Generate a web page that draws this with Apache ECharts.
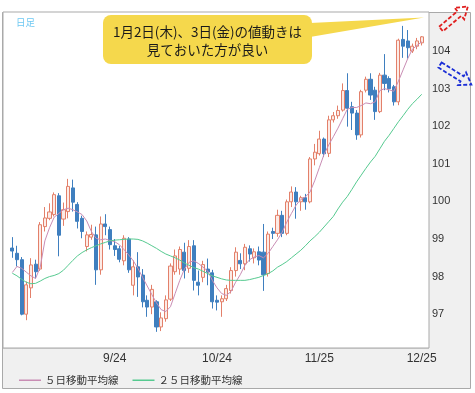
<!DOCTYPE html>
<html><head><meta charset="utf-8">
<script src="https://cdn.jsdelivr.net/npm/echarts@6/dist/echarts.min.js"></script>
<style>html,body{margin:0;padding:0;background:#fff}#c{width:475px;height:393px}</style>
</head><body><div id="c"></div>
<script>
// ---- data ----
const dates = ['8/23','8/26','8/27','8/28','8/29','8/30',
'9/2','9/3','9/4','9/5','9/6','9/9','9/10','9/11','9/12','9/13','9/16','9/17','9/18','9/19','9/20','9/23','9/24','9/25','9/26','9/27','9/30',
'10/1','10/2','10/3','10/4','10/7','10/8','10/9','10/10','10/11','10/14','10/15','10/16','10/17','10/18','10/21','10/22','10/23','10/24','10/25','10/28','10/29','10/30','10/31',
'11/1','11/4','11/5','11/6','11/7','11/8','11/11','11/12','11/13','11/14','11/15','11/18','11/19','11/20','11/21','11/22','11/25','11/26','11/27','11/28','11/29',
'12/2','12/3','12/4','12/5','12/6','12/9','12/10','12/11','12/12','12/13','12/16','12/17','12/18','12/19','12/20','12/23','12/24','12/25'];
const opens = [98.76,98.62,98.45,97.00,97.70,98.33,98.20,99.33,99.55,99.65,100.15,99.53,99.73,100.36,99.92,99.55,98.80,99.05,99.11,98.18,99.40,99.25,98.82,98.74,98.42,99.00,97.77,98.26,98.04,97.37,97.19,97.33,96.66,96.88,97.40,98.13,98.20,98.65,98.22,98.82,97.85,97.98,98.20,98.10,97.37,97.33,97.41,97.63,98.16,98.43,98.34,98.74,98.50,98.66,98.65,98.08,99.20,99.15,99.63,99.15,99.99,100.25,99.99,100.10,99.99,101.13,101.27,101.66,101.28,102.17,102.28,102.43,102.95,102.52,102.35,101.77,102.96,103.25,102.96,102.39,103.36,103.27,103.05,102.65,104.31,104.27,104.00,104.13,104.22];
const closes = [98.68,98.45,97.00,97.78,98.31,98.13,99.38,99.56,99.72,100.18,99.10,99.78,100.40,99.98,99.47,99.20,99.11,99.12,98.18,99.40,99.33,98.85,98.72,98.46,99.02,98.18,98.26,97.99,97.33,97.19,97.66,96.66,96.90,97.38,98.28,98.55,98.72,98.16,98.80,97.90,97.77,98.32,98.12,97.33,97.32,97.41,97.68,98.16,98.65,98.34,98.78,98.60,98.66,98.44,98.05,99.13,99.15,99.63,99.15,99.99,100.25,99.99,100.10,99.99,101.13,101.31,101.66,101.27,102.17,102.28,102.42,102.95,102.48,102.35,101.77,102.92,103.25,102.83,102.39,103.36,103.14,103.00,102.65,104.29,104.13,104.09,104.13,104.27,104.38];
const lows = [98.50,98.27,96.97,96.84,97.43,97.95,98.15,99.20,99.50,99.60,98.54,99.35,99.55,99.73,99.28,99.02,98.67,98.98,97.78,98.05,99.10,98.72,98.55,98.38,98.30,98.10,97.50,97.46,97.18,96.93,97.00,96.53,96.55,96.80,97.35,98.05,98.05,97.95,98.10,97.63,97.50,97.85,97.77,97.15,97.10,96.93,97.35,97.55,98.00,98.20,98.17,98.40,98.35,98.30,97.62,98.00,99.00,99.06,99.05,99.10,99.85,99.54,99.75,99.78,99.95,100.96,101.22,101.18,101.18,102.10,102.20,102.39,101.99,101.90,101.64,101.70,102.90,102.70,102.17,102.35,102.96,102.90,102.55,102.56,103.82,103.80,103.95,104.05,104.15];
const highs = [99.05,98.82,98.52,97.87,98.49,98.45,99.45,99.85,99.95,100.24,100.22,99.97,100.60,100.58,99.98,99.62,99.20,99.38,99.33,99.60,99.66,99.33,99.00,98.82,99.10,99.05,98.43,98.65,98.20,97.50,97.78,97.37,97.05,97.50,98.35,98.72,98.80,98.90,98.97,98.97,98.16,98.42,98.48,98.18,97.50,97.50,97.78,98.25,98.78,98.62,98.87,98.83,98.75,98.80,99.40,99.20,99.30,99.78,99.75,100.05,100.40,100.38,100.15,100.20,101.18,101.53,101.88,101.70,102.28,102.38,102.55,103.14,103.41,102.65,102.43,102.97,103.32,103.41,103.05,103.42,103.92,103.33,103.10,104.33,104.67,104.56,104.20,104.35,104.40];
const ma5 = [98.11,98.27,98.22,98.12,98.02,97.95,98.25,98.95,99.30,99.58,99.68,99.78,99.82,99.78,99.72,99.65,99.48,99.20,99.02,98.98,99.00,98.96,98.93,98.85,98.72,98.58,98.42,98.22,97.98,97.75,97.52,97.30,97.12,97.07,97.20,97.55,97.90,98.20,98.38,98.42,98.35,98.25,98.15,97.90,97.70,97.55,97.50,97.60,97.85,98.05,98.30,98.45,98.52,98.56,98.50,98.62,98.80,98.98,99.18,99.45,99.68,99.90,100.05,100.12,100.25,100.55,100.90,101.25,101.50,101.72,101.95,102.20,102.45,102.50,102.50,102.55,102.62,102.60,102.65,102.95,103.00,102.97,102.93,103.20,103.50,103.80,104.05,104.15,104.25];
const ma25 = [98.09,98.02,97.93,97.85,97.81,97.82,97.88,97.95,98.00,98.03,98.08,98.17,98.30,98.43,98.55,98.64,98.71,98.77,98.82,98.87,98.91,98.95,98.97,98.98,98.99,99.00,99.00,98.99,98.95,98.89,98.82,98.75,98.67,98.60,98.55,98.50,98.44,98.36,98.30,98.24,98.20,98.14,98.08,98.02,97.98,97.94,97.91,97.90,97.90,97.90,97.90,97.92,97.95,97.98,98.03,98.08,98.15,98.25,98.32,98.40,98.50,98.60,98.70,98.82,98.95,99.06,99.18,99.32,99.46,99.60,99.80,99.98,100.13,100.32,100.52,100.70,100.88,101.05,101.20,101.40,101.60,101.76,101.94,102.12,102.28,102.45,102.60,102.72,102.85];
const yTicks = [97,98,99,100,101,102,103,104];
const xLabels = ['9/24','10/24','11/25','12/25'];
const seriesNames = ['５日移動平均線','２５日移動平均線'];
const note = '1月2日(木)、3日(金)の値動きは\n見ておいた方が良い';

const candles = opens.map((o,i)=>[o, closes[i], lows[i], highs[i]]);
const Y_MIN = 96.1, Y_MAX = 105.04;

function arrowPts(x0,y0,deg,len,sw,hw,hl){
  const a = deg*Math.PI/180, c=Math.cos(a), s=Math.sin(a);
  const loc = [[0,-sw],[len-hl,-sw],[len-hl,-hw],[len,0],[len-hl,hw],[len-hl,sw],[0,sw]];
  return loc.map(([u,v])=>[x0+u*c - v*s, y0+u*s + v*c]);
}

const chart = echarts.init(document.getElementById('c'), null, {renderer:'canvas'});
chart.setOption({
  animation:false,
  backgroundColor:'#ffffff',
  textStyle:{fontFamily:'"Liberation Sans", Arial, sans-serif'},
  grid:[
    {left:3, top:12, width:426, height:336, show:true, backgroundColor:'#ffffff', borderColor:'#a9a9a9', borderWidth:1, z:1},
    {left:12.3, top:12, width:409.4, height:336, show:false}
  ],
  xAxis:[
    {type:'value', gridIndex:0, show:false, min:0, max:1},
    {type:'category', gridIndex:1, data:dates, boundaryGap:false,
     axisLine:{show:false}, axisTick:{show:false},
     axisLabel:{interval:(i)=> i>0 && i%22===0 && xLabels.includes(dates[i]), color:'#333', fontSize:12, margin:5},
     splitLine:{show:true, interval:(i)=> i%22===0, lineStyle:{color:'#d4d4d4', width:1}}}
  ],
  yAxis:[
    {type:'value', gridIndex:0, position:'right', min:Y_MIN, max:Y_MAX, splitNumber:9,
     axisLine:{show:false}, axisTick:{show:false},
     axisLabel:{margin:3, color:'#333', fontSize:11,
       formatter:(v)=> yTicks.some(t=>Math.abs(t-v)<1e-6) ? String(Math.round(v)) : ''},
     splitLine:{show:true, lineStyle:{color:'#d4d4d4', width:1}}},
    {type:'value', gridIndex:1, show:false, min:Y_MIN, max:Y_MAX}
  ],
  legend:{
    data:seriesNames, left:14, top:370, icon:'rect', itemWidth:22, itemHeight:1.5, itemGap:14,
    textStyle:{fontFamily:'"Noto Sans CJK JP", sans-serif', fontSize:10.5, color:'#333', padding:[0,0,0,-1]}
  },
  series:[
    {type:'candlestick', name:'日足', xAxisIndex:1, yAxisIndex:1, data:candles, barWidth:3.6, clip:false,
     itemStyle:{color:'#fcebe6', color0:'#3f7fbf', borderColor:'#e3806a', borderColor0:'#3f7fbf', borderWidth:1}},
    {type:'line', name:seriesNames[0], xAxisIndex:1, yAxisIndex:1, data:ma5, showSymbol:false, symbol:'none', clip:false,
     lineStyle:{color:'#c98db4', width:1}, itemStyle:{color:'#c98db4'}},
    {type:'line', name:seriesNames[1], xAxisIndex:1, yAxisIndex:1, data:ma25, showSymbol:false, symbol:'none', clip:false,
     lineStyle:{color:'#56ca90', width:1}, itemStyle:{color:'#56ca90'}}
  ],
  graphic:[
    {type:'rect', z:-10, shape:{x:2.5, y:12.5, width:468, height:376}, style:{fill:'#f0f0f0', stroke:'#a9a9a9', lineWidth:1}},
    {type:'text', z:50, style:{text:'日足', x:16, y:22, verticalAlign:'middle', fill:'#6ec8f2', font:'9.5px "Noto Sans CJK JP"'}},
    {type:'polygon', z:60, shape:{points:[[310,23],[310,37],[424,17.5]]}, style:{fill:'#f5d84c'}},
    {type:'rect', z:60, shape:{x:103, y:15, width:209, height:49, r:8}, style:{fill:'#f5d84c'}},
    {type:'text', z:61, style:{text:note, x:207.5, y:40.5, align:'center', verticalAlign:'middle', fill:'#1a1a1a', font:'13.5px "Noto Sans CJK JP"', lineHeight:18}},
    {type:'polygon', z:70, shape:{points:arrowPts(441,29,-40,35,3,7.5,11)}, style:{fill:'none', stroke:'#e01e1e', lineWidth:1.8, lineDash:[4,2]}},
    {type:'polygon', z:70, shape:{points:arrowPts(440,65,32,37,3,7.5,11)}, style:{fill:'none', stroke:'#1c2fd6', lineWidth:1.8, lineDash:[4,2]}}
  ]
});
</script></body></html>
